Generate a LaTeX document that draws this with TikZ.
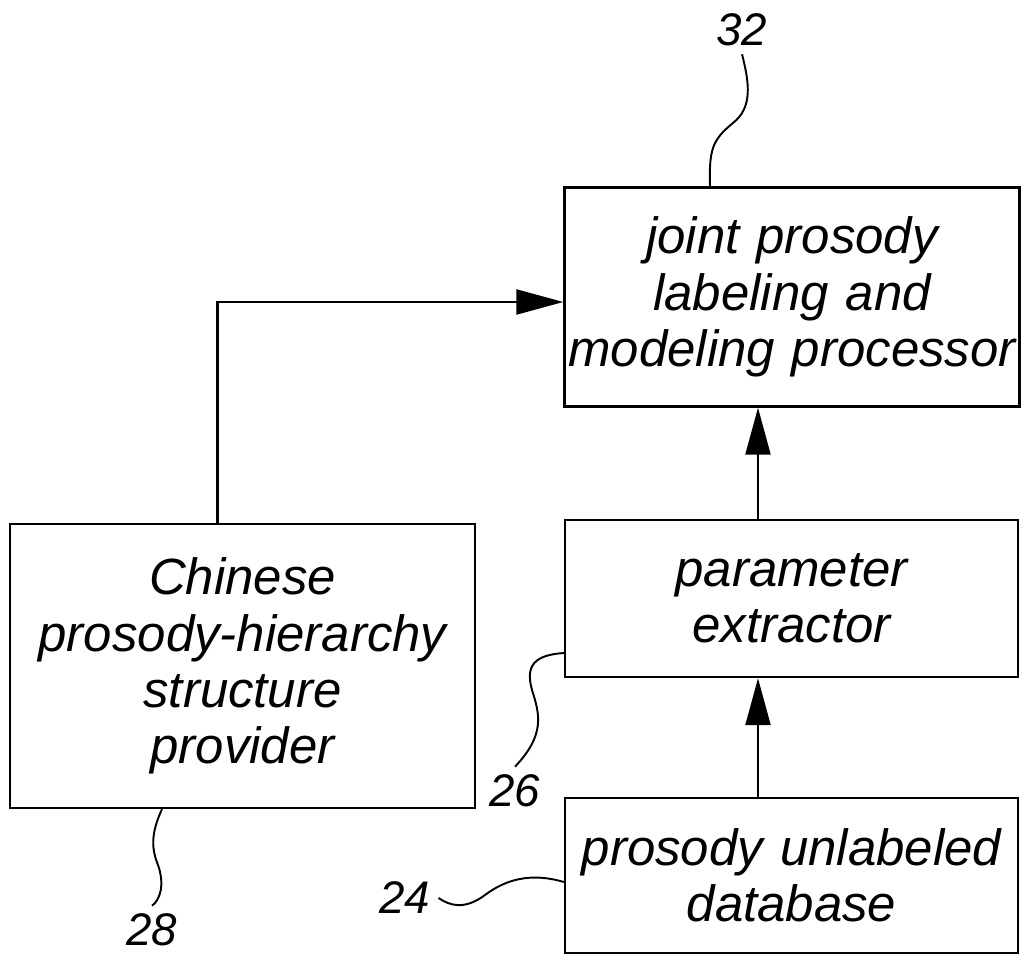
\documentclass[tikz,border=0pt]{standalone}
\usepackage{fontspec}
\setmainfont{Liberation Sans}
\usepackage{tikz}
\usetikzlibrary{calc,positioning,arrows.meta}

\begin{document}
\begin{tikzpicture}[x=0.02cm,y=-0.02cm,
    blk/.style={draw,line width=1.4pt,inner sep=0pt,align=center,
      font=\itshape\fontsize{29}{32}\selectfont},
    flow/.style={line width=1.3pt,-{Triangle[length=0.94cm,width=0.5cm]}},
    lead/.style={line width=1.1pt},
    num/.style={inner sep=1pt,font=\itshape\fontsize{26}{28}\selectfont}]
  \useasboundingbox (0,0) rectangle (1025,955);
  \coordinate (pProc) at (792,297);
  \coordinate (pExtr) at (791.5,598.5);
  \coordinate (pBase) at (791.5,875.5);
  \coordinate (pProv) at (242.5,666);
  \node[blk,minimum width=9.1cm,minimum height=4.38cm,text width=9.1cm] (proc) at (pProc)
    {joint prosody\\labeling and\\modeling processor};
  \node[blk,minimum width=9.06cm,minimum height=3.14cm,text width=9cm] (extr) at (pExtr)
    {parameter\\extractor};
  \node[blk,minimum width=9.06cm,minimum height=3.1cm,text width=9cm] (dbase) at (pBase)
    {prosody unlabeled\\database};
  \node[blk,minimum width=9.3cm,minimum height=5.68cm,text width=9.3cm] (prov) at (pProv)
    {Chinese\\prosody-hierarchy\\structure\\provider};
  \draw[flow] ($(prov.north)+(-25,0)$) |- ($(proc.west)+(0,5)$);
  \draw[flow] ($(extr.north)+(-33.5,0)$) -- ($(proc.south)+(-34,0)$);
  \draw[flow] ($(dbase.north)+(-33.5,0)$) -- ($(extr.south)+(-33.5,0)$);
  \node[num] (n32) at (742,30) {32};
  \node[num] (n26) at (515,791) {26};
  \node[num] (n24) at (405,898) {24};
  \node[num] (n28) at (152,930) {28};
  \draw[lead] ($(proc.north)+(-82,0)$) .. controls (709,150) and (712,140) .. (733,123)
    .. controls (752,108) and (750,85) .. ($(n32.south)+(0,6)$);
  \draw[lead] ($(extr.west)+(0,54.5)$) .. controls (535,655) and (525,665) .. (532,690)
    .. controls (540,715) and (545,735) .. ($(n26.north)+(0,-6)$);
  \draw[lead] ($(dbase.west)+(0,6.5)$) .. controls (530,872) and (505,880) .. (485,895)
    .. controls (465,910) and (450,906) .. ($(n24.east)+(6,0)$);
  \draw[lead] ($(prov.south)+(-80.5,0)$) .. controls (150,835) and (152,850) .. (158,865)
    .. controls (165,885) and (160,900) .. ($(n28.north)+(0,-6)$);
\end{tikzpicture}
\end{document}
